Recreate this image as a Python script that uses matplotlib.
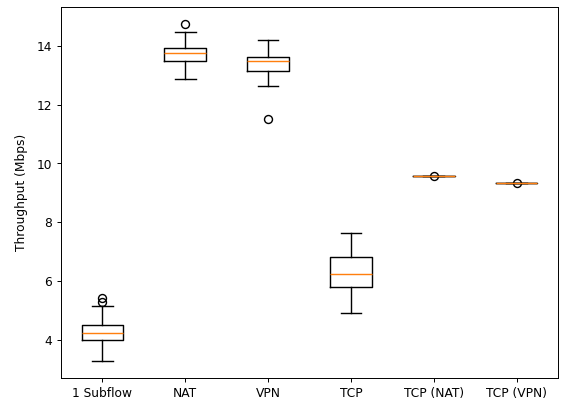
import matplotlib
matplotlib.use("Agg")
import matplotlib.pyplot as plt

# ==========================
# Data
# ==========================

labels = ["1 Subflow", "NAT", "VPN", "TCP", "TCP (NAT)", "TCP (VPN)"]

whislo = [3.30, 12.88, 12.65, 4.92, 9.565, 9.325]
q1 = [4.00, 13.48, 13.13, 5.80, 9.57, 9.33]
med = [4.25, 13.76, 13.47, 6.23, 9.575, 9.335]
q3 = [4.50, 13.91, 13.61, 6.83, 9.58, 9.34]
whishi = [5.15, 14.48, 14.21, 7.62, 9.585, 9.345]
fliers = [[5.30, 5.44], [14.75], [11.50], [], [9.56], [9.32]]

# ==========================
# Plot
# ==========================

stats = []
for i in range(len(labels)):
    stats.append({
        "label": labels[i],
        "whislo": whislo[i],
        "q1": q1[i],
        "med": med[i],
        "q3": q3[i],
        "whishi": whishi[i],
        "fliers": fliers[i],
    })

fig = plt.figure(figsize=(6.4, 4.57), dpi=88)
ax = fig.add_axes([0.108, 0.06, 0.883, 0.923])

lw = 1.15
ax.bxp(
    stats,
    showfliers=True,
    boxprops=dict(linewidth=lw),
    whiskerprops=dict(linewidth=lw),
    capprops=dict(linewidth=lw),
    medianprops=dict(linewidth=lw, color="C1"),
    flierprops=dict(markeredgewidth=lw, markersize=6.5),
)

ax.set_ylim(2.71, 15.33)
ax.set_ylabel("Throughput (Mbps)", labelpad=7.5)

fig.savefig("out.png", dpi=88)
